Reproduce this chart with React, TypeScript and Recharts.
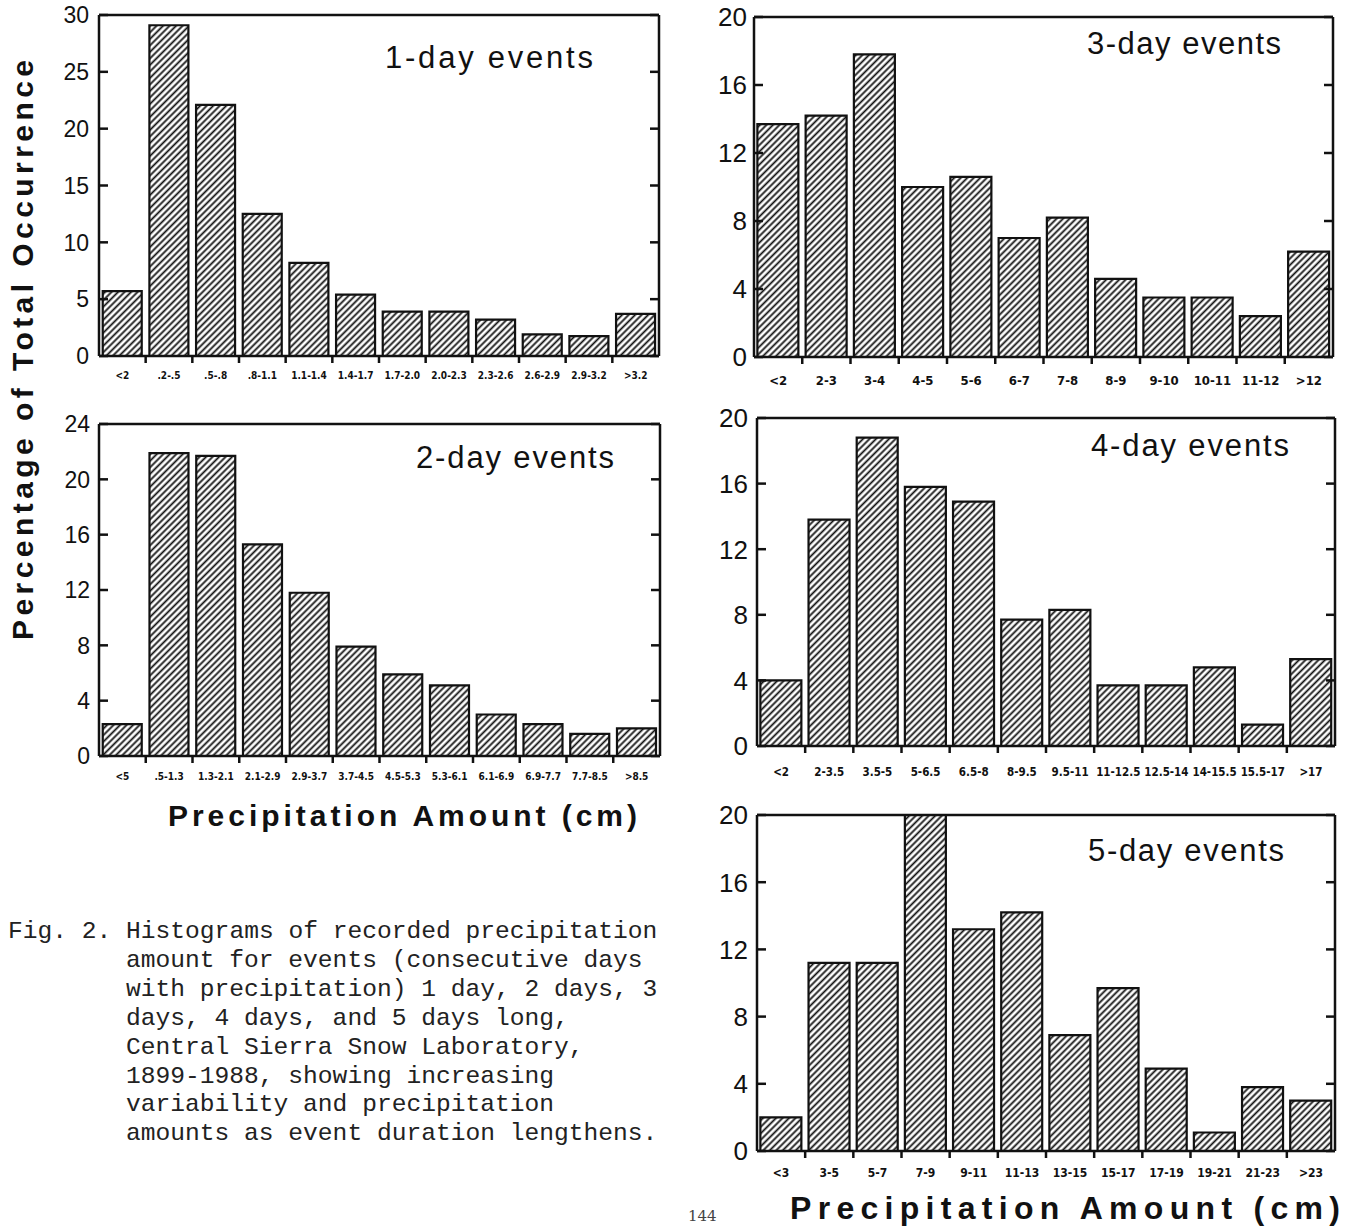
import { BarChart, Bar, XAxis, YAxis } from "recharts";

// category labels
const labels1 = ["<2", ".2-.5", ".5-.8", ".8-1.1", "1.1-1.4", "1.4-1.7", "1.7-2.0", "2.0-2.3", "2.3-2.6", "2.6-2.9", "2.9-3.2", ">3.2"];
const labels2 = ["<5", ".5-1.3", "1.3-2.1", "2.1-2.9", "2.9-3.7", "3.7-4.5", "4.5-5.3", "5.3-6.1", "6.1-6.9", "6.9-7.7", "7.7-8.5", ">8.5"];
const labels3 = ["<2", "2-3", "3-4", "4-5", "5-6", "6-7", "7-8", "8-9", "9-10", "10-11", "11-12", ">12"];
const labels4 = ["<2", "2-3.5", "3.5-5", "5-6.5", "6.5-8", "8-9.5", "9.5-11", "11-12.5", "12.5-14", "14-15.5", "15.5-17", ">17"];
const labels5 = ["<3", "3-5", "5-7", "7-9", "9-11", "11-13", "13-15", "15-17", "17-19", "19-21", "21-23", ">23"];

// percentage of total occurrence
const values1 = [5.7, 29.1, 22.1, 12.5, 8.2, 5.4, 3.9, 3.9, 3.2, 1.9, 1.75, 3.7];
const values2 = [2.3, 21.9, 21.7, 15.3, 11.8, 7.9, 5.9, 5.1, 3.0, 2.3, 1.6, 2.0];
const values3 = [13.7, 14.2, 17.8, 10.0, 10.6, 7.0, 8.2, 4.6, 3.5, 3.5, 2.4, 6.2];
const values4 = [4.0, 13.8, 18.8, 15.8, 14.9, 7.7, 8.3, 3.7, 3.7, 4.8, 1.3, 5.3];
const values5 = [2.0, 11.2, 11.2, 20.0, 13.2, 14.2, 6.9, 9.7, 4.9, 1.1, 3.8, 3.0];

const ticks30 = [0, 5, 10, 15, 20, 25, 30];
const ticks24 = [0, 4, 8, 12, 16, 20, 24];
const ticks20 = [0, 4, 8, 12, 16, 20];

const captionLines = [
  "Fig. 2. Histograms of recorded precipitation",
  "amount for events (consecutive days",
  "with precipitation) 1 day, 2 days, 3",
  "days, 4 days, and 5 days long,",
  "Central Sierra Snow Laboratory,",
  "1899-1988, showing increasing",
  "variability and precipitation",
  "amounts as event duration lengthens.",
];

const INK = "#111";
const AXIS_W = 70;
const PAD_TOP = 20;
const SANS = "'Liberation Sans', Arial, sans-serif";
const NARROW = "'Liberation Sans Narrow', 'DejaVu Sans Condensed', Arial, sans-serif";

type Box = { left: number; right: number; top: number; bottom: number };

type HistProps = {
  id: string;
  labels: string[];
  values: number[];
  yMax: number;
  yTicks: number[];
  box: Box;
  yFont: number;
  yGap: number;
  xFont: number;
  xDrop: number;
  gap: string;
};

function Histogram({ id, labels, values, yMax, yTicks, box, yFont, yGap, xFont, xDrop, gap }: HistProps) {
  const rows = labels.map((label, i) => ({ label, v: values[i] }));
  const pw = box.right - box.left;
  const band = pw / labels.length;
  const width = pw + AXIS_W + 2 + 8;
  const height = box.bottom - box.top + 1 + PAD_TOP + 40;

  const xTick = (p: any) => (
    <g>
      {p.index > 0 && (
        <line x1={p.x - band / 2} x2={p.x - band / 2} y1={p.y} y2={p.y + 7} stroke={INK} strokeWidth={2.5} />
      )}
      <text
        x={p.x}
        y={p.y + xDrop}
        textAnchor="middle"
        fontFamily={NARROW}
        fontWeight="bold"
        fontSize={xFont}
        fill={INK}
      >
        {p.payload.value}
      </text>
    </g>
  );

  const leftTick = (p: any) => (
    <g>
      <line x1={p.x} x2={p.x + 9} y1={p.y} y2={p.y} stroke={INK} strokeWidth={2.5} />
      <text x={p.x - yGap} y={p.y} dy="0.36em" textAnchor="end" fontFamily={SANS} fontSize={yFont} fill={INK}>
        {p.payload.value}
      </text>
    </g>
  );

  const rightTick = (p: any) => (
    <line x1={p.x - 9} x2={p.x} y1={p.y} y2={p.y} stroke={INK} strokeWidth={2.5} />
  );

  return (
    <div style={{ position: "absolute", left: box.left - AXIS_W, top: box.top - 1 - PAD_TOP }}>
      <BarChart
        width={width}
        height={height}
        data={rows}
        margin={{ top: PAD_TOP, right: 8, bottom: 0, left: 0 }}
        barCategoryGap={gap}
      >
        <defs>
          <pattern id={id} patternUnits="userSpaceOnUse" width={4.6} height={4.6} patternTransform="rotate(45)">
            <rect width={4.6} height={4.6} fill="#fff" />
            <line x1={2.3} y1={0} x2={2.3} y2={4.6} stroke={INK} strokeWidth={1.8} />
          </pattern>
        </defs>
        <XAxis
          xAxisId="cat"
          dataKey="label"
          interval={0}
          height={40}
          tickSize={0}
          tickMargin={0}
          tickLine={false}
          axisLine={{ stroke: INK, strokeWidth: 2.5 }}
          tick={xTick}
        />
        <XAxis xAxisId="top" orientation="top" height={1} tick={false} tickLine={false} axisLine={{ stroke: INK, strokeWidth: 2.5 }} />
        <YAxis
          yAxisId="l"
          width={AXIS_W}
          domain={[0, yMax]}
          ticks={yTicks}
          allowDataOverflow
          tickSize={0}
          tickMargin={0}
          tickLine={false}
          axisLine={{ stroke: INK, strokeWidth: 2.5 }}
          tick={leftTick}
        />
        <YAxis
          yAxisId="r"
          orientation="right"
          width={2}
          domain={[0, yMax]}
          ticks={yTicks}
          allowDataOverflow
          tickSize={0}
          tickMargin={0}
          tickLine={false}
          axisLine={{ stroke: INK, strokeWidth: 2.5 }}
          tick={rightTick}
        />
        <Bar
          xAxisId="cat"
          yAxisId="l"
          dataKey="v"
          fill={`url(#${id})`}
          stroke={INK}
          strokeWidth={2.2}
          isAnimationActive={false}
        />
      </BarChart>
    </div>
  );
}

export default function App() {
  return (
    <div style={{ position: "absolute", left: 0, top: 0, width: 1347, height: 1228, background: "#fff", overflow: "hidden" }}>
      <Histogram id="h1" labels={labels1} values={values1} yMax={30} yTicks={ticks30} gap="8%"
        box={{ left: 99, right: 659, top: 15, bottom: 356 }} yFont={23} yGap={10} xFont={10} xDrop={23} />
      <Histogram id="h2" labels={labels2} values={values2} yMax={24} yTicks={ticks24} gap="8%"
        box={{ left: 99, right: 660, top: 424, bottom: 756 }} yFont={23} yGap={9} xFont={10} xDrop={24} />
      <Histogram id="h3" labels={labels3} values={values3} yMax={20} yTicks={ticks20} gap="7%"
        box={{ left: 754, right: 1333, top: 17, bottom: 357 }} yFont={26} yGap={7} xFont={13} xDrop={28} />
      <Histogram id="h4" labels={labels4} values={values4} yMax={20} yTicks={ticks20} gap="7%"
        box={{ left: 757, right: 1335, top: 418, bottom: 746 }} yFont={26} yGap={9} xFont={11.5} xDrop={30} />
      <Histogram id="h5" labels={labels5} values={values5} yMax={20} yTicks={ticks20} gap="7%"
        box={{ left: 757, right: 1335, top: 815, bottom: 1151 }} yFont={26} yGap={9} xFont={12} xDrop={26} />

      <svg width={1347} height={1228} style={{ position: "absolute", left: 0, top: 0, pointerEvents: "none" }}>
        <g fontFamily={SANS} fontSize={31} fill={INK}>
          <text x={385} y={68} textLength={208} lengthAdjust="spacing">1-day  events</text>
          <text x={416} y={468} textLength={198} lengthAdjust="spacing">2-day  events</text>
          <text x={1087} y={54} textLength={194} lengthAdjust="spacing">3-day  events</text>
          <text x={1091} y={456} textLength={198} lengthAdjust="spacing">4-day  events</text>
          <text x={1088} y={861} textLength={196} lengthAdjust="spacing">5-day  events</text>
        </g>
        <g fontFamily={SANS} fontWeight="bold" fill={INK}>
          <text
            transform="translate(33,350) rotate(-90)"
            textAnchor="middle"
            fontSize={30}
            textLength={580}
            lengthAdjust="spacing"
          >
            Percentage  of  Total  Occurrence
          </text>
          <text x={168} y={826} fontSize={30} textLength={469} lengthAdjust="spacing">
            Precipitation  Amount  (cm)
          </text>
          <text x={790} y={1219} fontSize={32} textLength={550} lengthAdjust="spacing">
            Precipitation  Amount  (cm)
          </text>
        </g>
        <g fontFamily="'Liberation Mono', 'DejaVu Sans Mono', monospace" fontSize={24.6} fill="#222">
          {captionLines.map((line, i) => (
            <text key={i} x={i === 0 ? 8 : 126} y={938 + i * 28.9}>
              {line}
            </text>
          ))}
        </g>
        <text x={688} y={1221} fontFamily="'DejaVu Serif', serif" fontSize={15} fill="#444">
          144
        </text>
      </svg>
    </div>
  );
}
